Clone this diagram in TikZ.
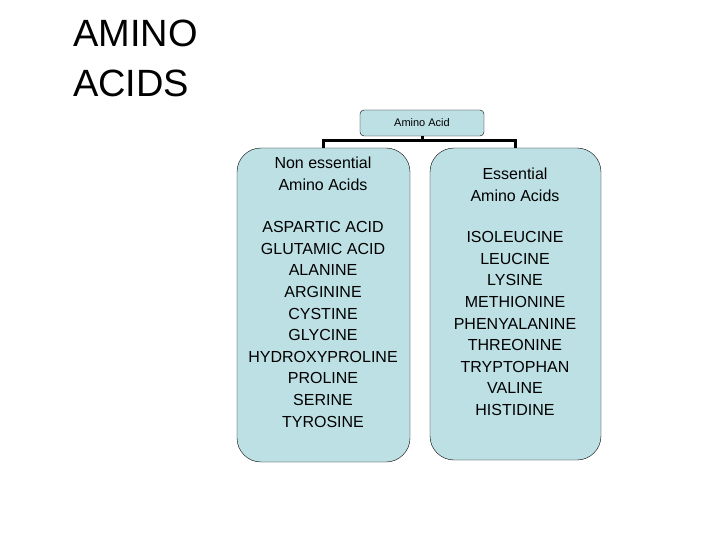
\documentclass[tikz,border=0pt]{standalone}
\usepackage{fontspec}
\setmainfont{Liberation Sans}
\definecolor{boxfill}{HTML}{BDE0E4}
\begin{document}
\begin{tikzpicture}[x=1pt,y=-1pt,
  box/.style={draw=black,fill=boxfill,rounded corners=#1},
  conn/.style={line width=3pt}]
\useasboundingbox (0,0) rectangle (720,540);
\node[anchor=north west,align=left,font=\fontsize{38}{50}\selectfont,inner sep=0] (title) at (73,20) {AMINO\\ACIDS};
\node[box=4pt,minimum width=124pt,minimum height=26pt,font=\fontsize{11}{13}\selectfont] (root) at (422,123) {Amino Acid};
\path[box=24pt] (237,148) rectangle (410,462);
\path[box=24pt] (430,148) rectangle (601,460);
\coordinate (lt) at (323,148);
\coordinate (rt) at (515,148);
\coordinate (jl) at (323,141);
\coordinate (jr) at (515,141);
\draw[conn] (root.south) -- (422,141);
\draw[conn] (lt) -- (jl) -- (jr) -- (rt);
\node[align=center,font=\fontsize{16}{22}\selectfont] (lh) at (323,174) {Non essential\\Amino Acids};
\node[align=center,font=\fontsize{16}{22}\selectfont] (rh) at (515,185) {Essential\\Amino Acids};
\node[align=center,font=\fontsize{16}{21.6}\selectfont,anchor=north] (ll) at (323,218) {ASPARTIC ACID\\GLUTAMIC ACID\\ALANINE\\ARGININE\\CYSTINE\\GLYCINE\\HYDROXYPROLINE\\PROLINE\\SERINE\\TYROSINE};
\node[align=center,font=\fontsize{16}{21.6}\selectfont,anchor=north] (rl) at (515,228) {ISOLEUCINE\\LEUCINE\\LYSINE\\METHIONINE\\PHENYALANINE\\THREONINE\\TRYPTOPHAN\\VALINE\\HISTIDINE};
\end{tikzpicture}
\end{document}
